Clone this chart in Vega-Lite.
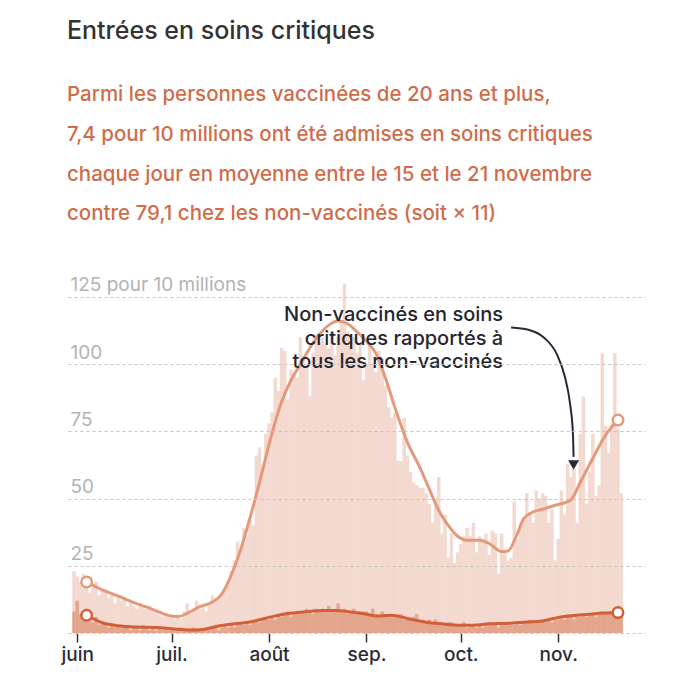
{
  "$schema": "https://vega.github.io/schema/vega-lite/v6.json",
  "width": 577,
  "height": 363,
  "autosize": {"type": "none"},
  "padding": {"left": 68, "top": 270, "right": 35, "bottom": 46},
  "background": "white",
  "title": {
    "text": "Entrées en soins critiques",
    "subtitle": [
      "Parmi les personnes vaccinées de 20 ans et plus,",
      "7,4 pour 10 millions ont été admises en soins critiques",
      "chaque jour en moyenne entre le 15 et le 21 novembre",
      "contre 79,1 chez les non-vaccinés (soit × 11)"
    ],
    "anchor": "start",
    "frame": "group",
    "dx": -1,
    "font": "Inter",
    "fontSize": 25,
    "fontWeight": 500,
    "color": "#333333",
    "subtitleFont": "Inter",
    "subtitleFontSize": 20.5,
    "subtitleFontWeight": 500,
    "subtitleColor": "#cf6d4b",
    "subtitleLineHeight": 39.8,
    "subtitlePadding": 41,
    "offset": 45
  },
  "config": {
    "view": {"stroke": null},
    "font": "Inter"
  },
  "datasets": {
    "daily": [
      {"date": "2021-05-31", "nonvax": 23, "vax": 8},
      {"date": "2021-06-01", "nonvax": 21, "vax": 12},
      {"date": "2021-06-02", "nonvax": 19, "vax": 7},
      {"date": "2021-06-03", "nonvax": 22, "vax": 6},
      {"date": "2021-06-04", "nonvax": 18, "vax": 9},
      {"date": "2021-06-05", "nonvax": 15, "vax": 5},
      {"date": "2021-06-06", "nonvax": 17, "vax": 4},
      {"date": "2021-06-07", "nonvax": 19, "vax": 6},
      {"date": "2021-06-08", "nonvax": 14, "vax": 3},
      {"date": "2021-06-09", "nonvax": 16, "vax": 4},
      {"date": "2021-06-10", "nonvax": 15, "vax": 3},
      {"date": "2021-06-11", "nonvax": 13, "vax": 2},
      {"date": "2021-06-12", "nonvax": 14, "vax": 3},
      {"date": "2021-06-13", "nonvax": 11, "vax": 2},
      {"date": "2021-06-14", "nonvax": 13, "vax": 3},
      {"date": "2021-06-15", "nonvax": 12, "vax": 2},
      {"date": "2021-06-16", "nonvax": 13, "vax": 2},
      {"date": "2021-06-17", "nonvax": 10, "vax": 3},
      {"date": "2021-06-18", "nonvax": 12, "vax": 1},
      {"date": "2021-06-19", "nonvax": 10, "vax": 2},
      {"date": "2021-06-20", "nonvax": 9, "vax": 2},
      {"date": "2021-06-21", "nonvax": 11, "vax": 1},
      {"date": "2021-06-22", "nonvax": 10, "vax": 3},
      {"date": "2021-06-23", "nonvax": 9, "vax": 2},
      {"date": "2021-06-24", "nonvax": 10, "vax": 1},
      {"date": "2021-06-25", "nonvax": 8, "vax": 2},
      {"date": "2021-06-26", "nonvax": 8, "vax": 1},
      {"date": "2021-06-27", "nonvax": 7, "vax": 2},
      {"date": "2021-06-28", "nonvax": 6, "vax": 1},
      {"date": "2021-06-29", "nonvax": 7, "vax": 2},
      {"date": "2021-06-30", "nonvax": 6, "vax": 1},
      {"date": "2021-07-01", "nonvax": 6, "vax": 2},
      {"date": "2021-07-02", "nonvax": 5, "vax": 1},
      {"date": "2021-07-03", "nonvax": 7, "vax": 1},
      {"date": "2021-07-04", "nonvax": 5, "vax": 2},
      {"date": "2021-07-05", "nonvax": 8, "vax": 1},
      {"date": "2021-07-06", "nonvax": 11, "vax": 1},
      {"date": "2021-07-07", "nonvax": 7, "vax": 1},
      {"date": "2021-07-08", "nonvax": 9, "vax": 2},
      {"date": "2021-07-09", "nonvax": 12, "vax": 1},
      {"date": "2021-07-10", "nonvax": 9, "vax": 1},
      {"date": "2021-07-11", "nonvax": 10, "vax": 1},
      {"date": "2021-07-12", "nonvax": 8, "vax": 2},
      {"date": "2021-07-13", "nonvax": 11, "vax": 1},
      {"date": "2021-07-14", "nonvax": 14, "vax": 2},
      {"date": "2021-07-15", "nonvax": 12, "vax": 2},
      {"date": "2021-07-16", "nonvax": 13, "vax": 1},
      {"date": "2021-07-17", "nonvax": 15, "vax": 2},
      {"date": "2021-07-18", "nonvax": 16, "vax": 3},
      {"date": "2021-07-19", "nonvax": 19, "vax": 2},
      {"date": "2021-07-20", "nonvax": 23, "vax": 3},
      {"date": "2021-07-21", "nonvax": 27, "vax": 2},
      {"date": "2021-07-22", "nonvax": 34, "vax": 3},
      {"date": "2021-07-23", "nonvax": 31, "vax": 4},
      {"date": "2021-07-24", "nonvax": 39, "vax": 3},
      {"date": "2021-07-25", "nonvax": 36, "vax": 4},
      {"date": "2021-07-26", "nonvax": 42, "vax": 3},
      {"date": "2021-07-27", "nonvax": 40, "vax": 5},
      {"date": "2021-07-28", "nonvax": 66, "vax": 4},
      {"date": "2021-07-29", "nonvax": 69, "vax": 4},
      {"date": "2021-07-30", "nonvax": 62, "vax": 5},
      {"date": "2021-07-31", "nonvax": 74, "vax": 6},
      {"date": "2021-08-01", "nonvax": 78, "vax": 5},
      {"date": "2021-08-02", "nonvax": 82, "vax": 6},
      {"date": "2021-08-03", "nonvax": 95, "vax": 5},
      {"date": "2021-08-04", "nonvax": 90, "vax": 7},
      {"date": "2021-08-05", "nonvax": 106, "vax": 6},
      {"date": "2021-08-06", "nonvax": 105, "vax": 7},
      {"date": "2021-08-07", "nonvax": 87, "vax": 8},
      {"date": "2021-08-08", "nonvax": 98, "vax": 6},
      {"date": "2021-08-09", "nonvax": 97, "vax": 7},
      {"date": "2021-08-10", "nonvax": 95, "vax": 8},
      {"date": "2021-08-11", "nonvax": 110, "vax": 7},
      {"date": "2021-08-12", "nonvax": 103, "vax": 8},
      {"date": "2021-08-13", "nonvax": 100, "vax": 9},
      {"date": "2021-08-14", "nonvax": 88, "vax": 8},
      {"date": "2021-08-15", "nonvax": 104, "vax": 7},
      {"date": "2021-08-16", "nonvax": 111, "vax": 9},
      {"date": "2021-08-17", "nonvax": 108, "vax": 8},
      {"date": "2021-08-18", "nonvax": 110, "vax": 9},
      {"date": "2021-08-19", "nonvax": 107, "vax": 8},
      {"date": "2021-08-20", "nonvax": 106, "vax": 10},
      {"date": "2021-08-21", "nonvax": 112, "vax": 8},
      {"date": "2021-08-22", "nonvax": 103, "vax": 9},
      {"date": "2021-08-23", "nonvax": 110, "vax": 11},
      {"date": "2021-08-24", "nonvax": 116, "vax": 8},
      {"date": "2021-08-25", "nonvax": 130, "vax": 9},
      {"date": "2021-08-26", "nonvax": 112, "vax": 7},
      {"date": "2021-08-27", "nonvax": 108, "vax": 8},
      {"date": "2021-08-28", "nonvax": 110, "vax": 9},
      {"date": "2021-08-29", "nonvax": 104, "vax": 7},
      {"date": "2021-08-30", "nonvax": 108, "vax": 8},
      {"date": "2021-08-31", "nonvax": 94, "vax": 8},
      {"date": "2021-09-01", "nonvax": 100, "vax": 8},
      {"date": "2021-09-02", "nonvax": 107, "vax": 7},
      {"date": "2021-09-03", "nonvax": 100, "vax": 9},
      {"date": "2021-09-04", "nonvax": 97, "vax": 7},
      {"date": "2021-09-05", "nonvax": 105, "vax": 6},
      {"date": "2021-09-06", "nonvax": 102, "vax": 8},
      {"date": "2021-09-07", "nonvax": 92, "vax": 7},
      {"date": "2021-09-08", "nonvax": 84, "vax": 6},
      {"date": "2021-09-09", "nonvax": 80, "vax": 7},
      {"date": "2021-09-10", "nonvax": 82, "vax": 6},
      {"date": "2021-09-11", "nonvax": 64, "vax": 6},
      {"date": "2021-09-12", "nonvax": 64, "vax": 7},
      {"date": "2021-09-13", "nonvax": 80, "vax": 5},
      {"date": "2021-09-14", "nonvax": 66, "vax": 6},
      {"date": "2021-09-15", "nonvax": 60, "vax": 5},
      {"date": "2021-09-16", "nonvax": 56, "vax": 6},
      {"date": "2021-09-17", "nonvax": 55, "vax": 7},
      {"date": "2021-09-18", "nonvax": 54, "vax": 5},
      {"date": "2021-09-19", "nonvax": 54, "vax": 5},
      {"date": "2021-09-20", "nonvax": 52, "vax": 4},
      {"date": "2021-09-21", "nonvax": 48, "vax": 5},
      {"date": "2021-09-22", "nonvax": 41, "vax": 4},
      {"date": "2021-09-23", "nonvax": 50, "vax": 5},
      {"date": "2021-09-24", "nonvax": 58, "vax": 4},
      {"date": "2021-09-25", "nonvax": 37, "vax": 4},
      {"date": "2021-09-26", "nonvax": 44, "vax": 3},
      {"date": "2021-09-27", "nonvax": 28, "vax": 4},
      {"date": "2021-09-28", "nonvax": 37, "vax": 4},
      {"date": "2021-09-29", "nonvax": 26, "vax": 3},
      {"date": "2021-09-30", "nonvax": 30, "vax": 3},
      {"date": "2021-10-01", "nonvax": 33, "vax": 3},
      {"date": "2021-10-02", "nonvax": 36, "vax": 4},
      {"date": "2021-10-03", "nonvax": 39, "vax": 2},
      {"date": "2021-10-04", "nonvax": 36, "vax": 3},
      {"date": "2021-10-05", "nonvax": 41, "vax": 3},
      {"date": "2021-10-06", "nonvax": 30, "vax": 2},
      {"date": "2021-10-07", "nonvax": 36, "vax": 3},
      {"date": "2021-10-08", "nonvax": 35, "vax": 2},
      {"date": "2021-10-09", "nonvax": 37, "vax": 3},
      {"date": "2021-10-10", "nonvax": 29, "vax": 4},
      {"date": "2021-10-11", "nonvax": 38, "vax": 3},
      {"date": "2021-10-12", "nonvax": 37, "vax": 3},
      {"date": "2021-10-13", "nonvax": 22, "vax": 2},
      {"date": "2021-10-14", "nonvax": 37, "vax": 3},
      {"date": "2021-10-15", "nonvax": 30, "vax": 3},
      {"date": "2021-10-16", "nonvax": 27, "vax": 4},
      {"date": "2021-10-17", "nonvax": 28, "vax": 3},
      {"date": "2021-10-18", "nonvax": 49, "vax": 3},
      {"date": "2021-10-19", "nonvax": 35, "vax": 4},
      {"date": "2021-10-20", "nonvax": 40, "vax": 3},
      {"date": "2021-10-21", "nonvax": 43, "vax": 4},
      {"date": "2021-10-22", "nonvax": 52, "vax": 4},
      {"date": "2021-10-23", "nonvax": 45, "vax": 5},
      {"date": "2021-10-24", "nonvax": 41, "vax": 4},
      {"date": "2021-10-25", "nonvax": 53, "vax": 4},
      {"date": "2021-10-26", "nonvax": 50, "vax": 4},
      {"date": "2021-10-27", "nonvax": 52, "vax": 5},
      {"date": "2021-10-28", "nonvax": 51, "vax": 4},
      {"date": "2021-10-29", "nonvax": 41, "vax": 5},
      {"date": "2021-10-30", "nonvax": 46, "vax": 4},
      {"date": "2021-10-31", "nonvax": 27, "vax": 5},
      {"date": "2021-11-01", "nonvax": 35, "vax": 5},
      {"date": "2021-11-02", "nonvax": 53, "vax": 6},
      {"date": "2021-11-03", "nonvax": 44, "vax": 5},
      {"date": "2021-11-04", "nonvax": 63, "vax": 7},
      {"date": "2021-11-05", "nonvax": 58, "vax": 6},
      {"date": "2021-11-06", "nonvax": 61, "vax": 5},
      {"date": "2021-11-07", "nonvax": 41, "vax": 6},
      {"date": "2021-11-08", "nonvax": 74, "vax": 6},
      {"date": "2021-11-09", "nonvax": 88, "vax": 7},
      {"date": "2021-11-10", "nonvax": 48, "vax": 6},
      {"date": "2021-11-11", "nonvax": 60, "vax": 7},
      {"date": "2021-11-12", "nonvax": 74, "vax": 7},
      {"date": "2021-11-13", "nonvax": 51, "vax": 6},
      {"date": "2021-11-14", "nonvax": 55, "vax": 7},
      {"date": "2021-11-15", "nonvax": 104, "vax": 8},
      {"date": "2021-11-16", "nonvax": 77, "vax": 7},
      {"date": "2021-11-17", "nonvax": 67, "vax": 7},
      {"date": "2021-11-18", "nonvax": 78, "vax": 8},
      {"date": "2021-11-19", "nonvax": 104, "vax": 7},
      {"date": "2021-11-20", "nonvax": 76, "vax": 8},
      {"date": "2021-11-21", "nonvax": 52, "vax": 7}
    ],
    "smooth": [
      {"date": "2021-06-04", "group": "nonvax", "value": 19.0},
      {"date": "2021-06-09", "group": "nonvax", "value": 16.0},
      {"date": "2021-06-15", "group": "nonvax", "value": 13.3},
      {"date": "2021-06-19", "group": "nonvax", "value": 11.3},
      {"date": "2021-06-23", "group": "nonvax", "value": 9.7},
      {"date": "2021-06-27", "group": "nonvax", "value": 7.8},
      {"date": "2021-07-01", "group": "nonvax", "value": 6.3},
      {"date": "2021-07-03", "group": "nonvax", "value": 6.0},
      {"date": "2021-07-06", "group": "nonvax", "value": 7.3},
      {"date": "2021-07-10", "group": "nonvax", "value": 9.8},
      {"date": "2021-07-14", "group": "nonvax", "value": 11.5},
      {"date": "2021-07-17", "group": "nonvax", "value": 14.5},
      {"date": "2021-07-20", "group": "nonvax", "value": 21.5},
      {"date": "2021-07-23", "group": "nonvax", "value": 31},
      {"date": "2021-07-26", "group": "nonvax", "value": 43},
      {"date": "2021-07-29", "group": "nonvax", "value": 56},
      {"date": "2021-08-01", "group": "nonvax", "value": 70},
      {"date": "2021-08-05", "group": "nonvax", "value": 86},
      {"date": "2021-08-08", "group": "nonvax", "value": 94},
      {"date": "2021-08-11", "group": "nonvax", "value": 100},
      {"date": "2021-08-14", "group": "nonvax", "value": 106},
      {"date": "2021-08-17", "group": "nonvax", "value": 111},
      {"date": "2021-08-20", "group": "nonvax", "value": 114.5},
      {"date": "2021-08-23", "group": "nonvax", "value": 116},
      {"date": "2021-08-26", "group": "nonvax", "value": 115},
      {"date": "2021-08-29", "group": "nonvax", "value": 112},
      {"date": "2021-09-01", "group": "nonvax", "value": 108.5},
      {"date": "2021-09-04", "group": "nonvax", "value": 104},
      {"date": "2021-09-07", "group": "nonvax", "value": 95},
      {"date": "2021-09-10", "group": "nonvax", "value": 84},
      {"date": "2021-09-14", "group": "nonvax", "value": 71},
      {"date": "2021-09-18", "group": "nonvax", "value": 61.5},
      {"date": "2021-09-21", "group": "nonvax", "value": 53.5},
      {"date": "2021-09-23", "group": "nonvax", "value": 48},
      {"date": "2021-09-25", "group": "nonvax", "value": 43.5},
      {"date": "2021-09-27", "group": "nonvax", "value": 40},
      {"date": "2021-09-30", "group": "nonvax", "value": 36},
      {"date": "2021-10-03", "group": "nonvax", "value": 34.5},
      {"date": "2021-10-07", "group": "nonvax", "value": 34.5},
      {"date": "2021-10-10", "group": "nonvax", "value": 33.3},
      {"date": "2021-10-14", "group": "nonvax", "value": 30.3},
      {"date": "2021-10-16", "group": "nonvax", "value": 30.5},
      {"date": "2021-10-19", "group": "nonvax", "value": 37},
      {"date": "2021-10-21", "group": "nonvax", "value": 42.5},
      {"date": "2021-10-24", "group": "nonvax", "value": 45},
      {"date": "2021-10-27", "group": "nonvax", "value": 46},
      {"date": "2021-10-31", "group": "nonvax", "value": 47.5},
      {"date": "2021-11-05", "group": "nonvax", "value": 49.5},
      {"date": "2021-11-08", "group": "nonvax", "value": 56},
      {"date": "2021-11-12", "group": "nonvax", "value": 65},
      {"date": "2021-11-16", "group": "nonvax", "value": 73.5},
      {"date": "2021-11-20", "group": "nonvax", "value": 79.2},
      {"date": "2021-06-04", "group": "vax", "value": 6.6},
      {"date": "2021-06-09", "group": "vax", "value": 3.8},
      {"date": "2021-06-14", "group": "vax", "value": 2.7},
      {"date": "2021-06-20", "group": "vax", "value": 2.2},
      {"date": "2021-06-26", "group": "vax", "value": 2.0},
      {"date": "2021-07-01", "group": "vax", "value": 1.6},
      {"date": "2021-07-07", "group": "vax", "value": 1.1},
      {"date": "2021-07-11", "group": "vax", "value": 1.3},
      {"date": "2021-07-16", "group": "vax", "value": 2.6},
      {"date": "2021-07-21", "group": "vax", "value": 3.4},
      {"date": "2021-07-26", "group": "vax", "value": 4.1},
      {"date": "2021-07-31", "group": "vax", "value": 5.5},
      {"date": "2021-08-05", "group": "vax", "value": 6.9},
      {"date": "2021-08-12", "group": "vax", "value": 7.8},
      {"date": "2021-08-18", "group": "vax", "value": 8.4},
      {"date": "2021-08-22", "group": "vax", "value": 8.4},
      {"date": "2021-08-27", "group": "vax", "value": 7.8},
      {"date": "2021-09-01", "group": "vax", "value": 7.0},
      {"date": "2021-09-04", "group": "vax", "value": 6.3},
      {"date": "2021-09-09", "group": "vax", "value": 6.6},
      {"date": "2021-09-14", "group": "vax", "value": 5.4},
      {"date": "2021-09-19", "group": "vax", "value": 4.2},
      {"date": "2021-09-25", "group": "vax", "value": 3.4},
      {"date": "2021-10-01", "group": "vax", "value": 2.9},
      {"date": "2021-10-05", "group": "vax", "value": 2.9},
      {"date": "2021-10-10", "group": "vax", "value": 3.4},
      {"date": "2021-10-16", "group": "vax", "value": 3.6},
      {"date": "2021-10-22", "group": "vax", "value": 4.1},
      {"date": "2021-10-27", "group": "vax", "value": 4.5},
      {"date": "2021-11-01", "group": "vax", "value": 5.8},
      {"date": "2021-11-06", "group": "vax", "value": 6.5},
      {"date": "2021-11-12", "group": "vax", "value": 7.1},
      {"date": "2021-11-16", "group": "vax", "value": 7.4},
      {"date": "2021-11-20", "group": "vax", "value": 7.6}
    ],
    "ends": [
      {"date": "2021-06-04", "group": "nonvax", "value": 19.0},
      {"date": "2021-11-20", "group": "nonvax", "value": 79.2},
      {"date": "2021-06-04", "group": "vax", "value": 6.6},
      {"date": "2021-11-20", "group": "vax", "value": 7.6}
    ],
    "arrow": [
      {"date": "2021-10-17T00:00:00Z", "value": 113.6},
      {"date": "2021-10-22T12:00:00Z", "value": 112.8},
      {"date": "2021-10-27T12:00:00Z", "value": 109.8},
      {"date": "2021-10-31T14:00:00Z", "value": 103.6},
      {"date": "2021-11-03T04:00:00Z", "value": 95.0},
      {"date": "2021-11-04T18:00:00Z", "value": 85.3},
      {"date": "2021-11-05T16:00:00Z", "value": 74.2},
      {"date": "2021-11-05T21:00:00Z", "value": 65.5}
    ],
    "arrowhead": [
      {"date": "2021-11-05T21:00:00Z", "value": 62.5}
    ],
    "note": [
      {"date": "2021-10-14T11:00:00Z", "value": 118.2, "label": ["Non-vaccinés en soins", "critiques rapportés à", "tous les non-vaccinés"]}
    ]
  },
  "encoding": {
    "x": {
      "field": "date",
      "type": "temporal",
      "title": null,
      "scale": {
        "type": "utc",
        "domain": [
          {"year": 2021, "month": 5, "date": 30, "hours": 16, "utc": true},
          {"year": 2021, "month": 11, "date": 27, "utc": true}
        ]
      },
      "axis": {
        "values": [
          {"year": 2021, "month": 6, "date": 1, "utc": true},
          {"year": 2021, "month": 7, "date": 1, "utc": true},
          {"year": 2021, "month": 8, "date": 1, "utc": true},
          {"year": 2021, "month": 9, "date": 1, "utc": true},
          {"year": 2021, "month": 10, "date": 1, "utc": true},
          {"year": 2021, "month": 11, "date": 1, "utc": true}
        ],
        "labelExpr": "['janv.','févr.','mars','avr.','mai','juin','juil.','août','sep.','oct.','nov.','déc.'][utcmonth(datum.value)]",
        "grid": false,
        "domain": false,
        "ticks": true,
        "tickSize": 9,
        "tickColor": "#333333",
        "tickWidth": 1.5,
        "labelFont": "Inter",
        "labelFontSize": 19,
        "labelFontWeight": 500,
        "labelColor": "#2b2d36",
        "labelPadding": 3,
        "labelFlush": false,
        "labelOverlap": false
      }
    }
  },
  "layer": [
    {
      "data": {"name": "daily"},
      "mark": {"type": "bar", "width": 3.5, "color": "#f3d9cf"},
      "encoding": {
        "y": {
          "field": "nonvax",
          "type": "quantitative",
          "title": null,
          "scale": {"domain": [0, 135], "nice": false},
          "axis": {
            "values": [0, 25, 50, 75, 100, 125],
            "grid": true,
            "gridDash": [3, 3],
            "gridColor": "#c4c4c4",
            "gridWidth": 1,
            "domain": false,
            "ticks": false,
            "tickSize": 0,
            "labelPadding": -2,
            "labelAlign": "left",
            "labelBaseline": "alphabetic",
            "labelOffset": -6,
            "labelFont": "Inter",
            "labelFontSize": 19,
            "labelColor": "#b3b3b3",
            "labelExpr": "datum.value == 0 ? '' : (datum.value == 125 ? '125 pour 10 millions' : datum.label)",
            "zindex": 1
          }
        }
      }
    },
    {
      "data": {"name": "daily"},
      "mark": {"type": "bar", "width": 3.5, "color": "#e3a58c"},
      "encoding": {
        "y": {"field": "vax", "type": "quantitative", "title": null}
      }
    },
    {
      "data": {"name": "smooth"},
      "mark": {"type": "line", "interpolate": "monotone", "strokeWidth": 3},
      "encoding": {
        "y": {"field": "value", "type": "quantitative", "title": null},
        "color": {
          "field": "group",
          "type": "nominal",
          "scale": {"domain": ["nonvax", "vax"], "range": ["#e4997c", "#d35f38"]},
          "legend": null
        }
      }
    },
    {
      "data": {"name": "ends"},
      "mark": {"type": "point", "filled": true, "fill": "white", "strokeWidth": 2.5, "size": 110, "opacity": 1},
      "encoding": {
        "y": {"field": "value", "type": "quantitative", "title": null},
        "stroke": {
          "field": "group",
          "type": "nominal",
          "scale": {"domain": ["nonvax", "vax"], "range": ["#e4997c", "#d35f38"]},
          "legend": null
        }
      }
    },
    {
      "data": {"name": "arrow"},
      "mark": {"type": "line", "interpolate": "monotone", "color": "#262a36", "strokeWidth": 2},
      "encoding": {
        "y": {"field": "value", "type": "quantitative", "title": null}
      }
    },
    {
      "data": {"name": "arrowhead"},
      "mark": {"type": "point", "shape": "triangle-down", "filled": true, "color": "#262a36", "size": 120, "opacity": 1},
      "encoding": {
        "y": {"field": "value", "type": "quantitative", "title": null}
      }
    },
    {
      "data": {"name": "note"},
      "mark": {"type": "text", "align": "right", "baseline": "middle", "font": "Inter", "fontSize": 20, "fontWeight": 500, "lineHeight": 23.5, "color": "#24262f"},
      "encoding": {
        "y": {"field": "value", "type": "quantitative", "title": null},
        "text": {"field": "label", "type": "nominal"}
      }
    }
  ]
}
